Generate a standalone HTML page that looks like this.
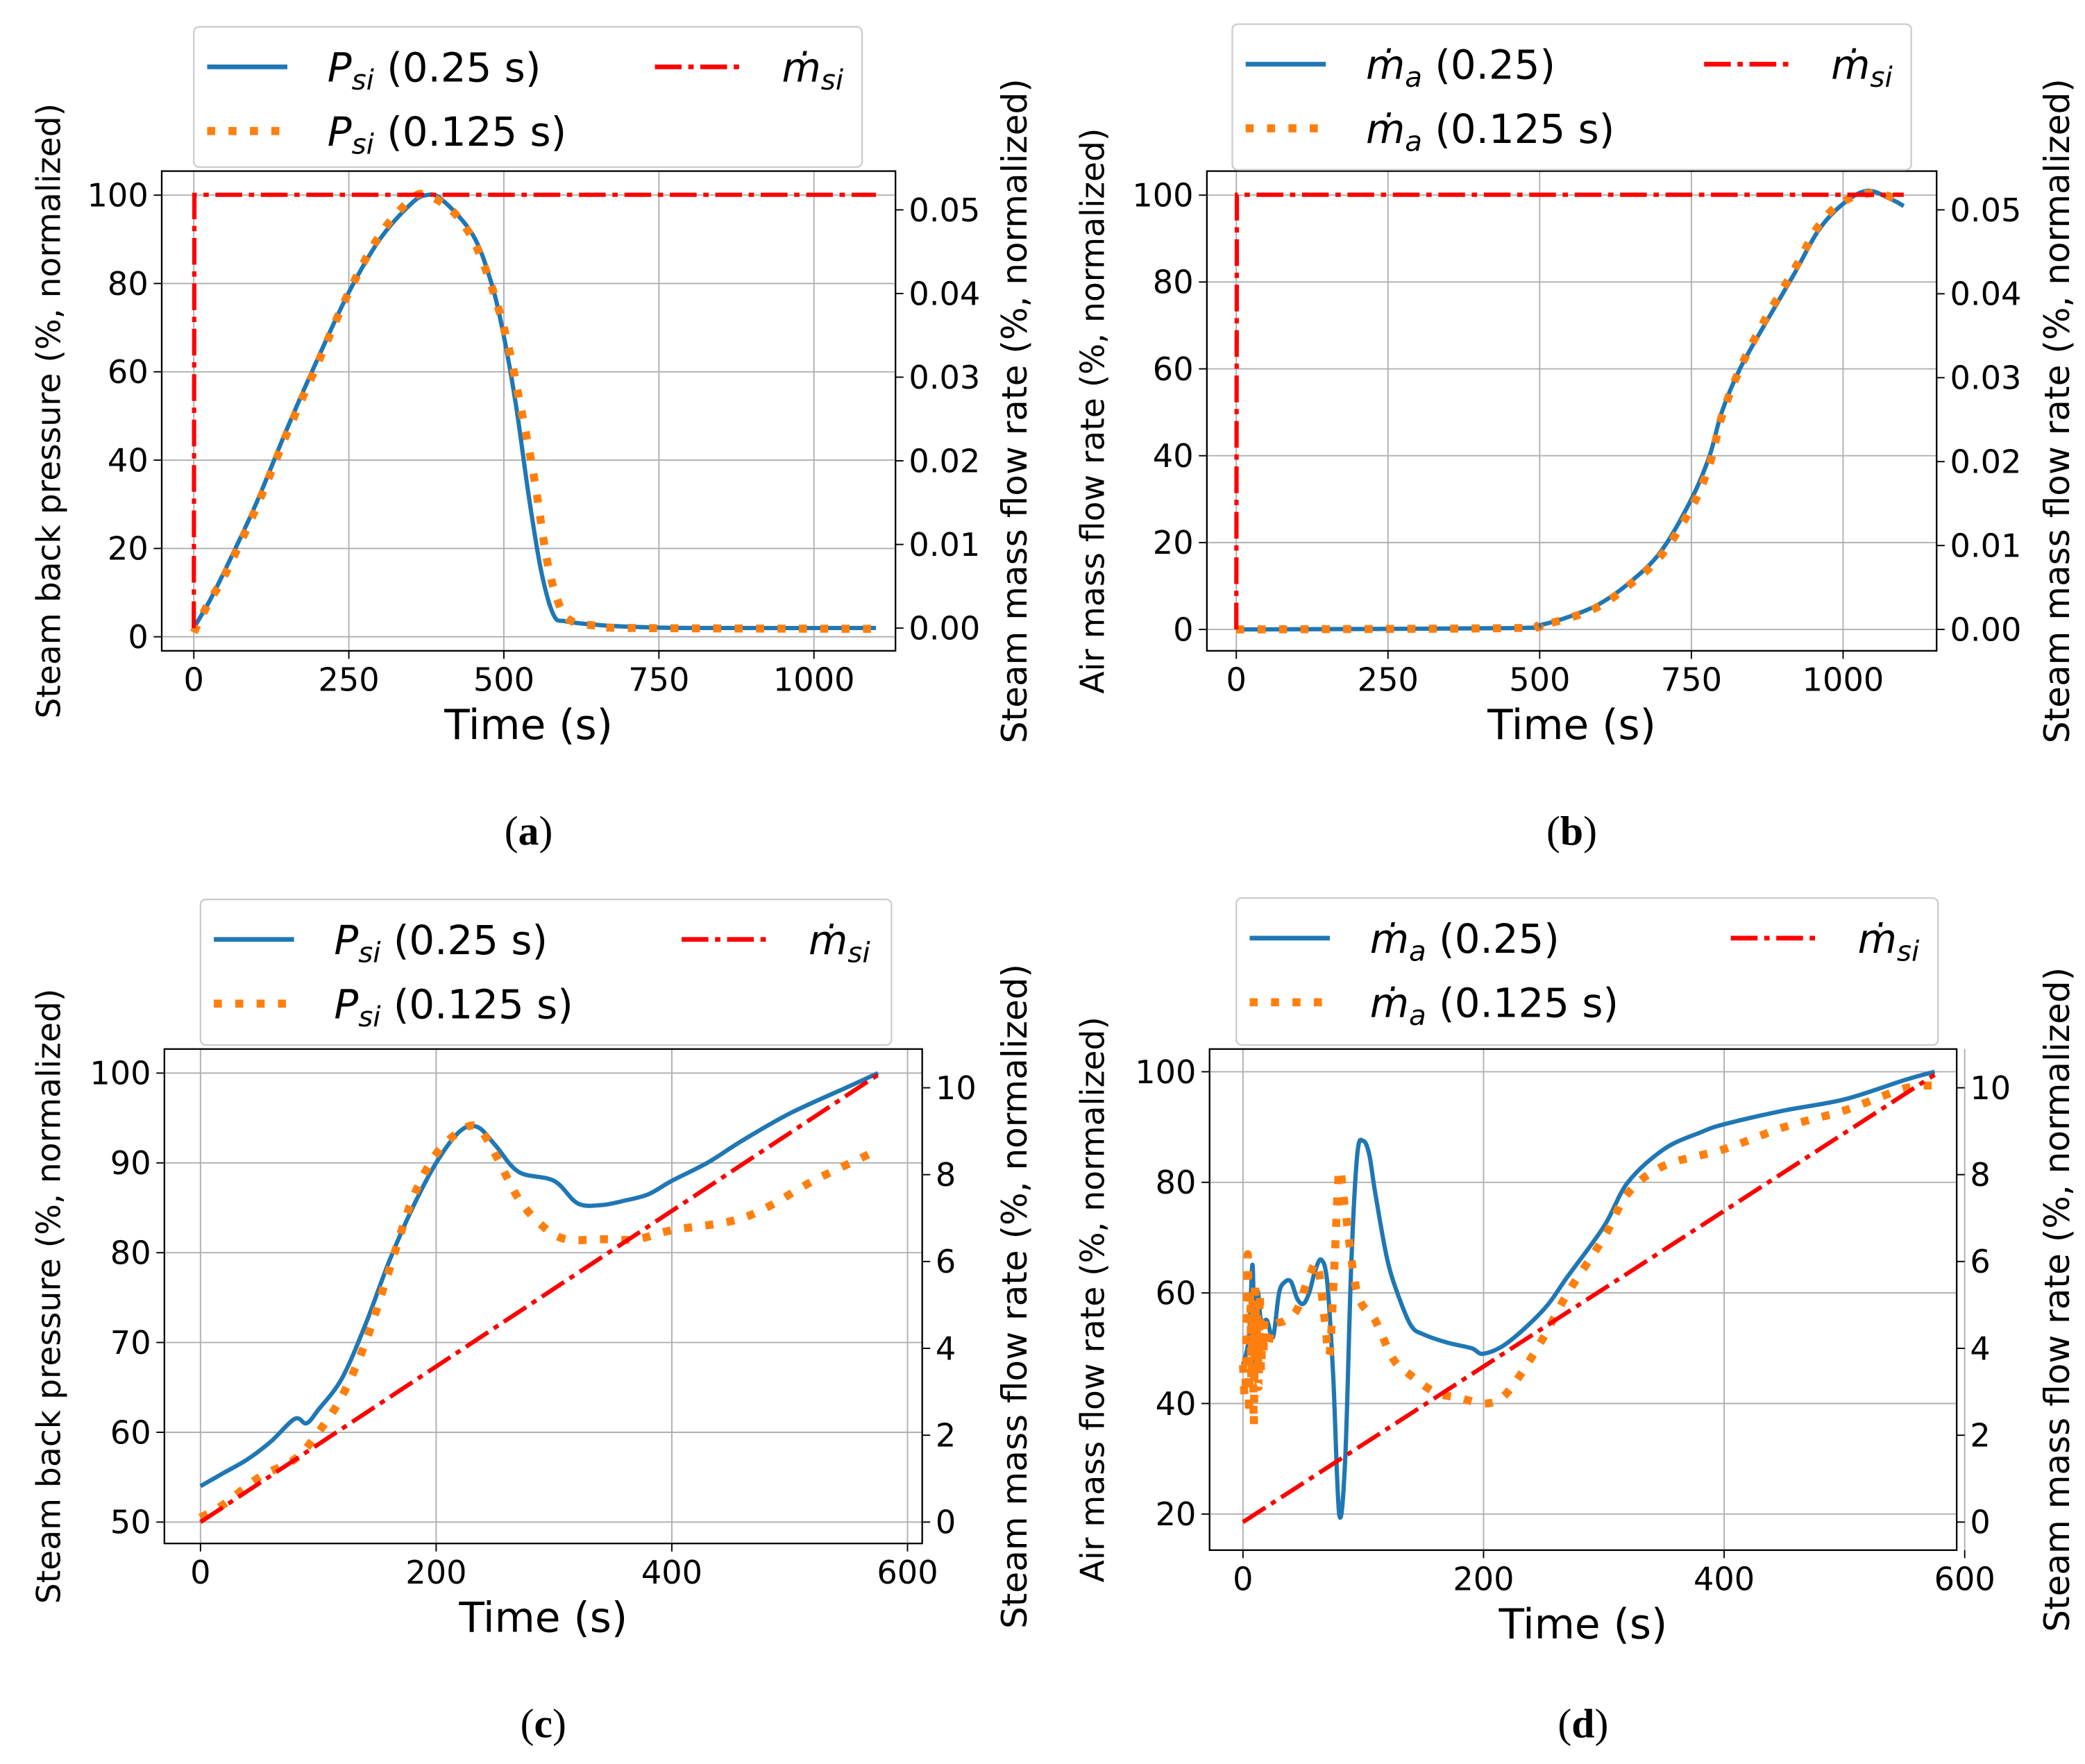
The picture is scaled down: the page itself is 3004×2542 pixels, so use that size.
<!DOCTYPE html>
<html><head><meta charset="utf-8"><style>
html,body{margin:0;padding:0;background:#fff}
svg{display:block}
text{font-family:"DejaVu Sans","Liberation Sans",sans-serif;fill:#000}
.cap{font-family:"Liberation Serif",serif}
</style></head><body>
<svg id="fig" width="3004" height="2542" viewBox="0 0 1560 1320" xmlns="http://www.w3.org/2000/svg"></svg>
<script>
// Panel (a)
const aTimeBlue=[0,25,50,100,150,200,250,300,350,375,400,450,480,500,520,540,560,580,600,650,700,800,1100];
const aPsiBlue=[2,8,15,30,47,63,78,90,98,100,99,91,80,68,52,32,15,5,3.5,2.7,2.3,2,2];
const aTimeOrange=[0,25,50,100,150,200,250,300,350,375,420,460,500,530,550,570,590,610,650,700,1100];
const aPsiOrange=[1,8,14,29,46,62,78,91,99,100,96,87,70,50,35,17,7,3.5,2.5,2,1.8];
const aTimeRed=[0,1,1100];
const aMsiRed=[0,0.0518,0.0518];
// Panel (b)
const bTimeBlue=[0,450,500,550,600,650,700,750,780,800,830,870,920,960,1000,1040,1080,1100];
const bMaBlue=[0,0.3,1,3,6,11,18,30,40,50,60,70,82,92,98,101,99,97.5];
const bTimeOrange=[0,450,500,550,600,650,700,750,780,800,830,870,920,960,1000,1050,1090];
const bMaOrange=[0,0.3,1,2.7,5.5,10.5,17,28,38,49,60,71,83,93,98.5,100.5,99];
const bTimeRed=[0,1,1100];
const bMsiRed=[0,0.0518,0.0518];
// Panel (c)
const cTimeBlue=[0,20,40,60,80,90,100,120,140,160,180,200,220,235,250,270,300,320,340,360,380,400,430,460,500,550,575];
const cPsiBlue=[54,55.5,57,59,61.5,61,62.5,66,72,79,85,90,93.5,94,92,89,88,85.5,85.3,85.8,86.5,88,90,92.5,95.5,98.5,100];
const cTimeOrange=[0,20,50,80,100,120,140,160,180,200,220,235,250,270,290,310,340,370,400,450,480,520,560,575];
const cPsiOrange=[50.5,52,55,57,60,64,70,78,86,91,93.5,94,91,86,83,81.5,81.5,81.5,82.5,83.5,85,88,90.5,91.5];
const cTimeRed=[0,575];
const cMsiRed=[0,10.3];
// Panel (d)
const dTimeBlue=[0,5,8,10,12,15,20,25,30,35,40,45,50,55,60,65,70,75,80,85,90,95,100,105,110,120,130,140,150,170,190,200,220,250,270,300,320,350,380,400,450,500,550,575];
const dMaBlue=[47,52,65,45,60,55,55,52,60,62,62,59,58,60,64,66,62,45,20,30,65,85,87.5,85,78,66,59,54,52.5,51,50,49,51,57,63,72,80,86,89,90.5,93,95,98.5,100];
const dTimeOrange=[0,2,4,5,6,7,8,9,10,11,12,13,14,15,16,17,18,20,25,35,45,55,62,68,72,76,80,85,95,110,125,140,160,180,200,215,230,250,270,300,320,350,400,450,500,550,575];
const dMaOrange=[47,42,67,38,60,44,58,36,62,47,56,43,60,46,52,49,55,50,54,55,57,63,65,55,49,65,82,75,60,55,48,45,42,41,40,41,45,52,60,70,78,83,86,90,93,97,97.5];
const dTimeRed=[0,575];
const dMsiRed=[0,10.3];

const NS="http://www.w3.org/2000/svg";
const svg=document.getElementById('fig');
function mk(tag,attrs,parent){const e=document.createElementNS(NS,tag);for(const k in attrs)e.setAttribute(k,attrs[k]);(parent||svg).appendChild(e);return e;}
function lin(d0,d1,r0,r1){return v=>r0+(v-d0)*(r1-r0)/(d1-d0);}
function pathD(xs,ys,fx,fy){return xs.map((x,i)=>(i?'L':'M')+fx(x).toFixed(2)+' '+fy(ys[i]).toFixed(2)).join(' ');}
function smoothD(xs,ys,fx,fy){
  const P=xs.map((x,i)=>[fx(x),fy(ys[i])]);
  let d='M'+P[0][0].toFixed(2)+' '+P[0][1].toFixed(2);
  for(let i=0;i<P.length-1;i++){
    const p0=P[Math.max(0,i-1)],p1=P[i],p2=P[i+1],p3=P[Math.min(P.length-1,i+2)];
    const c1=[p1[0]+(p2[0]-p0[0])/6,p1[1]+(p2[1]-p0[1])/6];
    const c2=[p2[0]-(p3[0]-p1[0])/6,p2[1]-(p3[1]-p1[1])/6];
    d+=' C'+c1.map(v=>v.toFixed(2)).join(' ')+' '+c2.map(v=>v.toFixed(2)).join(' ')+' '+p2[0].toFixed(2)+' '+p2[1].toFixed(2);
  }
  return d;
}

function panel(p){
  const g=mk('g',{});
  
  
  const fx=lin(p.x0,p.x1,p.px0,p.px1), fy=lin(p.y0,p.y1,p.py0,p.py1), fr=lin(p.r0,p.r1,p.pr0,p.pr1);
  p.xt.forEach(v=>{const l=mk('line',{x1:fx(v),x2:fx(v),y1:p.top,y2:p.bot,stroke:'#b0b0b0','stroke-width':1},g);
    
    });
  p.yt.forEach(v=>{const l=mk('line',{x1:p.left,x2:p.right,y1:fy(v),y2:fy(v),stroke:'#b0b0b0','stroke-width':1},g);
    
    });
  const blue=mk('path',{d:smoothD(p.bx,p.by,fx,fy),fill:'none',stroke:'#1f77b4','stroke-width':3.2,'stroke-linejoin':'round'},g);
  
  
  const org=mk('path',{d:smoothD(p.ox,p.oy,fx,fy),fill:'none',stroke:'#ff7f0e','stroke-width':6,'stroke-dasharray':'6 10'},g);
  
  
  const red=mk('path',{d:pathD(p.rx,p.ry,fx,fr),fill:'none',stroke:'#ff0000','stroke-width':3.2,'stroke-dasharray':'20 5 4 5'},g);
  
  
  const fr0=mk('rect',{x:p.left,y:p.top,width:p.right-p.left,height:p.bot-p.top,fill:'none',stroke:'#000','stroke-width':1.2},g);
  
  
  p.xt.forEach((v,i)=>{mk('line',{x1:fx(v),x2:fx(v),y1:p.bot,y2:p.bot+6,stroke:'#000'},g);
    const t=mk('text',{x:fx(v),y:p.bot+30,'text-anchor':'middle','font-size':24},g);t.textContent=p.xl[i];
    
    });
  p.yt.forEach((v,i)=>{mk('line',{x1:p.left-6,x2:p.left,y1:fy(v),y2:fy(v),stroke:'#000'},g);
    const t=mk('text',{x:p.left-10,y:fy(v)+8.5,'text-anchor':'end','font-size':24},g);t.textContent=p.yl[i];
    
    });
  p.rt.forEach((v,i)=>{mk('line',{x1:p.right,x2:p.right+6,y1:fr(v),y2:fr(v),stroke:'#000'},g);
    const t=mk('text',{x:p.right+10,y:fr(v)+8.5,'font-size':24},g);t.textContent=p.rl[i];
    
    });
  const cx=(p.left+p.right)/2, cy=(p.top+p.bot)/2;
  const xt=mk('text',{x:cx,y:p.bot+66,'text-anchor':'middle','font-size':31},g);xt.textContent='Time (s)';
  
  
  const yt=mk('text',{x:0,y:0,'text-anchor':'middle','font-size':24.5,transform:`translate(${p.ylx},${cy}) rotate(-90)`},g);yt.textContent=p.ylabel;
  
  
  const rt=mk('text',{x:0,y:0,'text-anchor':'middle','font-size':26,transform:`translate(${p.rlx},${cy}) rotate(-90)`},g);rt.textContent='Steam mass flow rate (%, normalized)';
  
  
  const cap=mk('text',{x:cx,y:p.capy,'text-anchor':'middle','font-size':31,class:'cap'},g);
  cap.innerHTML='(<tspan font-weight="bold">'+p.id.slice(-1)+'</tspan>)';
  
  
  const L=p.leg;
  const lg=mk('g',{},g);
  
  
  mk('rect',{x:L.x,y:L.y,width:L.w,height:L.h,rx:4,fill:'#fff',stroke:'#ccc','stroke-width':1.2},lg);
  const r1=L.y+30, r2=L.y+78;
  mk('line',{x1:L.x+10,x2:L.x+70,y1:r1,y2:r1,stroke:'#1f77b4','stroke-width':3.5},lg);
  mk('line',{x1:L.x+10,x2:L.x+70,y1:r2,y2:r2,stroke:'#ff7f0e','stroke-width':6,'stroke-dasharray':'6 10'},lg);
  mk('line',{x1:L.x+L.rx,x2:L.x+L.rx+65,y1:r1,y2:r1,stroke:'#ff0000','stroke-width':3.5,'stroke-dasharray':'20 5 4 5'},lg);
  const sym=p.sym;
  const e1=mk('text',{x:L.x+100,y:r1+11,'font-size':30},lg);e1.innerHTML=sym+' (0.25'+p.unit+')';
  
  
  const e2=mk('text',{x:L.x+100,y:r2+11,'font-size':30},lg);e2.innerHTML=sym+' (0.125 s)';
  
  
  const e3=mk('text',{x:L.x+L.rx+95,y:r1+11,'font-size':30},lg);e3.innerHTML='<tspan font-style="italic">ṁ</tspan><tspan font-style="italic" font-size="21" dy="6">si</tspan>';
  
  
}
const PSI='<tspan font-style="italic">P</tspan><tspan font-style="italic" font-size="21" dy="6">si</tspan><tspan dy="-6"> </tspan>';
const MA='<tspan font-style="italic">ṁ</tspan><tspan font-style="italic" font-size="21" dy="6">a</tspan><tspan dy="-6"> </tspan>';
panel({id:'panel-a',left:121,right:670,top:128,bot:487,x0:0,x1:1000,px0:145,px1:609,y0:0,y1:100,py0:476.5,py1:146,
 r0:0,r1:0.05,pr0:470,pr1:157,xt:[0,250,500,750,1000],xl:['0','250','500','750','1000'],
 yt:[0,20,40,60,80,100],yl:['0','20','40','60','80','100'],rt:[0,0.01,0.02,0.03,0.04,0.05],rl:['0.00','0.01','0.02','0.03','0.04','0.05'],
 bx:aTimeBlue,by:aPsiBlue,ox:aTimeOrange,oy:aPsiOrange,rx:aTimeRed,ry:aMsiRed,ylx:45,rlx:768,ylabel:'Steam back pressure (%, normalized)',capy:632,
 leg:{x:145,y:20,w:500,h:105,rx:345},sym:PSI,unit:' s'});
panel({id:'panel-b',left:903,right:1449,top:128,bot:487,x0:0,x1:1000,px0:925,px1:1379,y0:0,y1:100,py0:471,py1:146,
 r0:0,r1:0.05,pr0:471,pr1:157,xt:[0,250,500,750,1000],xl:['0','250','500','750','1000'],
 yt:[0,20,40,60,80,100],yl:['0','20','40','60','80','100'],rt:[0,0.01,0.02,0.03,0.04,0.05],rl:['0.00','0.01','0.02','0.03','0.04','0.05'],
 bx:bTimeBlue,by:bMaBlue,ox:bTimeOrange,oy:bMaOrange,rx:bTimeRed,ry:bMsiRed,ylx:826,rlx:1548,ylabel:'Air mass flow rate (%, normalized)',capy:632,
 leg:{x:922,y:18,w:508,h:109,rx:353},sym:MA,unit:''});
panel({id:'panel-c',left:123,right:690,top:785,bot:1155,x0:0,x1:600,px0:150,px1:679,y0:50,y1:100,py0:1139,py1:803,
 r0:0,r1:10,pr0:1139,pr1:814,xt:[0,200,400,600],xl:['0','200','400','600'],
 yt:[50,60,70,80,90,100],yl:['50','60','70','80','90','100'],rt:[0,2,4,6,8,10],rl:['0','2','4','6','8','10'],
 bx:cTimeBlue,by:cPsiBlue,ox:cTimeOrange,oy:cPsiOrange,rx:cTimeRed,ry:cMsiRed,ylx:45,rlx:768,ylabel:'Steam back pressure (%, normalized)',capy:1300,
 leg:{x:150,y:673,w:517,h:109,rx:360},sym:PSI,unit:' s'});
panel({id:'panel-d',left:905,right:1464,top:785,bot:1160,x0:0,x1:600,px0:930,px1:1470,y0:20,y1:100,py0:1133,py1:802,
 r0:0,r1:10,pr0:1139,pr1:814,xt:[0,200,400,600],xl:['0','200','400','600'],
 yt:[20,40,60,80,100],yl:['20','40','60','80','100'],rt:[0,2,4,6,8,10],rl:['0','2','4','6','8','10'],
 bx:dTimeBlue,by:dMaBlue,ox:dTimeOrange,oy:dMaOrange,rx:dTimeRed,ry:dMsiRed,ylx:826,rlx:1548,ylabel:'Air mass flow rate (%, normalized)',capy:1300,
 leg:{x:925,y:672,w:525,h:110,rx:370},sym:MA,unit:''});
</script>
</body></html>
